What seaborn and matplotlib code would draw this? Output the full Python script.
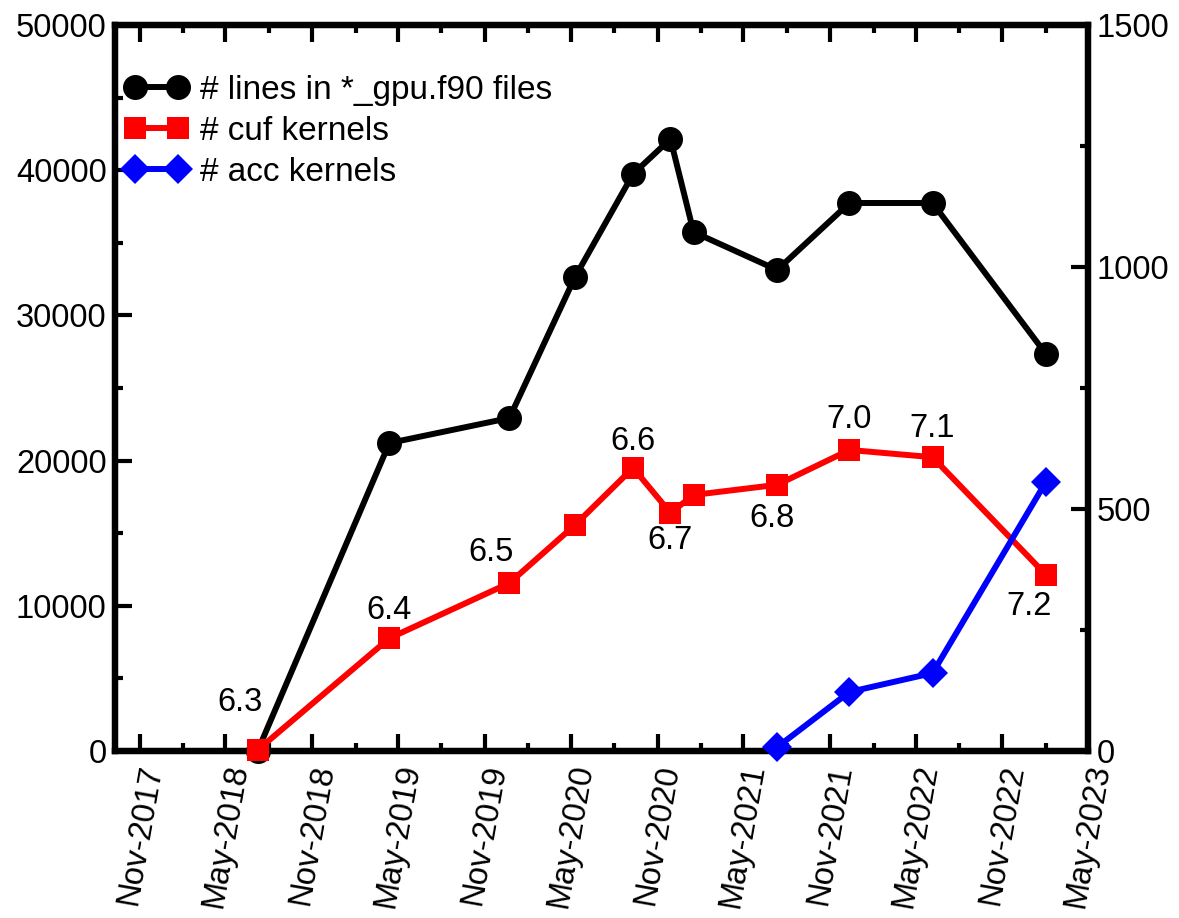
import pandas as pd
import numpy as np
import matplotlib.pyplot as plt
import matplotlib.dates as mdates
from matplotlib.ticker import MultipleLocator
import seaborn as sns

# Set style
sns.set_style("ticks")
plt.rcParams['font.family'] = ['Liberation Sans', 'DejaVu Sans']
plt.rcParams['text.color'] = 'black'
plt.rcParams['xtick.color'] = 'black'
plt.rcParams['ytick.color'] = 'black'
plt.rcParams['axes.edgecolor'] = 'black'

# release dates (QE versions)
release_dates = pd.to_datetime([
    '2018-07-08', '2019-04-13', '2019-12-23', '2020-05-10', '2020-09-10',
    '2020-11-28', '2021-01-16', '2021-07-12', '2021-12-12', '2022-06-06',
    '2023-02-01',
])
versions = ['6.3', '6.4', '6.5', '', '6.6', '6.7', '', '6.8', '7.0', '7.1', '7.2']

# lines in *_gpu.f90 files (left axis)
gpu_lines = [0, 21210, 22930, 32640, 39740, 42150, 35740, 33130, 37740, 37740, 27340]

# cuf kernels (right axis)
cuf_kernels = [2, 233, 347, 467, 585, 492, 529, 550, 622, 607, 364]

# acc kernels (right axis), only the last four releases
acc_dates = release_dates[7:]
acc_kernels = [8, 122, 161, 556]

# label offsets in points (dx, dy) for version labels
label_offsets = {'6.3': (-13, 34), '6.4': (0, 20), '6.5': (-13, 22), '6.6': (0, 19),
                 '6.7': (0, -20), '6.8': (-4, -24), '7.0': (0, 22), '7.1': (0, 21),
                 '7.2': (-12, -23)}

FS = 23.5

fig = plt.figure(figsize=(11.79, 9.18), dpi=100)
ax = fig.add_axes([0.0975, 0.1819, 0.8253, 0.7909])
ax2 = ax.twinx()

sns.lineplot(x=release_dates, y=gpu_lines, ax=ax, color='black', linewidth=4.3,
             marker='o', markersize=18, markeredgecolor='black', markeredgewidth=0,
             label='# lines in *_gpu.f90 files')
sns.lineplot(x=release_dates, y=cuf_kernels, ax=ax2, color='#ff0000', linewidth=4.3,
             marker='s', markersize=16.5, markeredgecolor='#ff0000', markeredgewidth=0,
             label='# cuf kernels')
sns.lineplot(x=acc_dates, y=acc_kernels, ax=ax2, color='#0000ff', linewidth=4.3,
             marker='D', markersize=15, markeredgecolor='#0000ff', markeredgewidth=0,
             label='# acc kernels')

for a in (ax, ax2):
    for ln in a.lines:
        ln.set_clip_on(False)
        ln.set_zorder(5)
    if a.get_legend() is not None:
        a.get_legend().remove()
    a.set_xlabel('')
    a.set_ylabel('')

# version labels on the cuf series
for d, v, lab in zip(release_dates, cuf_kernels, versions):
    if lab:
        ax2.annotate(lab, (d, v), xytext=label_offsets[lab], textcoords='offset points',
                     ha='center', va='center', fontsize=FS, color='black')

ax.set_xlim(pd.Timestamp('2017-09-09'), pd.Timestamp('2023-05-01'))
ax.set_ylim(0, 50000)
ax2.set_ylim(0, 1500)

ax.xaxis.set_major_locator(mdates.MonthLocator(bymonth=[5, 11]))
ax.xaxis.set_minor_locator(mdates.MonthLocator(bymonth=[2, 8]))
ax.xaxis.set_major_formatter(mdates.DateFormatter('%b-%Y'))
ax.yaxis.set_major_locator(MultipleLocator(10000))
ax.yaxis.set_minor_locator(MultipleLocator(5000))
ax2.yaxis.set_major_locator(MultipleLocator(500))
ax2.yaxis.set_minor_locator(MultipleLocator(250))

ax.tick_params(axis='x', which='both', direction='in', top=True, bottom=True,
               labelsize=FS, pad=8, labelrotation=80, labelcolor='black')
ax.tick_params(axis='y', which='both', direction='in', left=True, right=False,
               labelsize=FS, pad=6, labelcolor='black')
ax.tick_params(which='major', length=12, width=3, color='black')
ax.tick_params(which='minor', length=6, width=3, color='black')
ax2.tick_params(axis='y', which='both', direction='in', right=True, labelsize=FS, pad=6,
                labelcolor='black')
ax2.tick_params(which='major', length=12, width=3, color='black')
ax2.tick_params(which='minor', length=6, width=3, color='black')

for a in (ax, ax2):
    for sp in a.spines.values():
        sp.set_linewidth(4.5)
        sp.set_color('black')
        sp.set_visible(True)

h1, l1 = ax.get_legend_handles_labels()
h2, l2 = ax2.get_legend_handles_labels()
leg = ax2.legend(h1 + h2, l1 + l2, loc='upper left', bbox_to_anchor=(0.0, 0.945),
                 frameon=False, numpoints=2, handlelength=1.9, handletextpad=0.35,
                 labelspacing=0.3, fontsize=24, borderaxespad=0.2, borderpad=0.1)
for t in leg.get_texts():
    t.set_color('black')

fig.savefig('out.png', dpi=100)
